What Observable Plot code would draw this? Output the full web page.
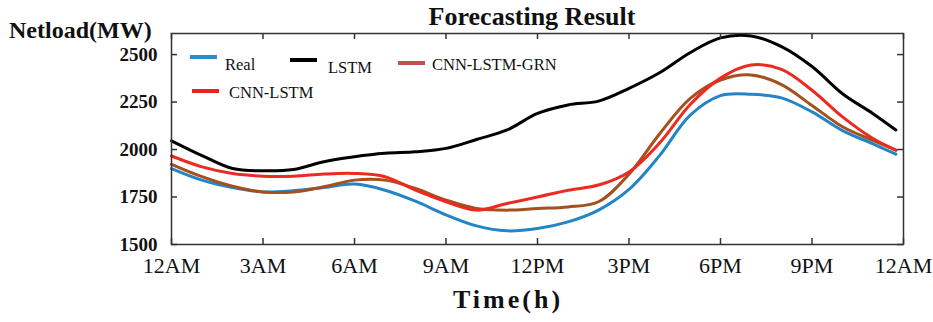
<!DOCTYPE html>
<html><head><meta charset="utf-8">
<script src="https://cdn.jsdelivr.net/npm/d3@7"></script>
<script src="https://cdn.jsdelivr.net/npm/@observablehq/plot@0.6"></script>
<style>
body{margin:0;background:#fff;}
#wrap{position:relative;width:933px;height:322px;font-family:"Liberation Serif","Times New Roman",serif;}
#wrap svg.overlay{position:absolute;left:0;top:0;pointer-events:none;font-family:"Liberation Serif","Times New Roman",serif;}
#chart{position:absolute;left:0;top:0;}
</style></head><body>
<div id="wrap"><div id="chart"></div></div>
<script>
// ---- data ----
const hours = [0,1,2,3,4,5,6,7,8,9,10,11,12,13,14,15,16,17,18,19,20,21,22,23,23.75];
const realLoad   = [1900,1839,1800,1777,1783,1800,1818,1786,1728,1656,1598,1572,1584,1619,1681,1790,1968,2180,2284,2291,2272,2198,2100,2030,1976];
const lstmLoad   = [2046,1968,1900,1888,1895,1936,1962,1980,1988,2006,2053,2103,2190,2235,2255,2322,2404,2510,2588,2598,2542,2437,2294,2189,2103];
const grnLoad    = [1922,1857,1807,1777,1777,1804,1839,1839,1795,1734,1690,1681,1690,1698,1725,1870,2082,2268,2366,2393,2342,2232,2120,2048,1997];
const cnnLstmLoad= [1966,1909,1874,1860,1860,1871,1874,1857,1786,1725,1681,1716,1750,1786,1813,1882,2034,2236,2376,2445,2422,2312,2172,2058,1997];
const models = ["Real","CNN-LSTM-GRN","CNN-LSTM","LSTM"];
const modelValues = [realLoad, grnLoad, cnnLstmLoad, lstmLoad];
const lineColors = ["#2384c6","#a5501f","#ec2a22","#000000"];
const xTickValues = [0,3,6,9,12,15,18,21,24];
const xTickLabels = ["12AM","3AM","6AM","9AM","12PM","3PM","6PM","9PM","12AM"];
const yTickValues = [1500,1750,2000,2250,2500];
const legendItems = [
  {label:"Real", color:"#2a8ccc"},
  {label:"LSTM", color:"#000000"},
  {label:"CNN-LSTM-GRN", color:"#c0504d"},
  {label:"CNN-LSTM", color:"#e0261f"}
];

const data = models.flatMap((m, k) => hours.map((h, i) => ({hour: h, value: modelValues[k][i], model: m})));
const serif = '"Liberation Serif","Times New Roman",serif';

const W = 933, H = 322, mL = 171, mR = 30, mT = 33, mB = 78;
const innerW = W - mL - mR, innerH = H - mT - mB, tk = 6;
const tickStyle = {stroke: "#333", strokeWidth: 1.5};

const plot = Plot.plot({
  width: W, height: H,
  marginLeft: mL, marginRight: mR, marginTop: mT, marginBottom: mB,
  style: {fontFamily: serif, background: "transparent", color: "#111"},
  x: {domain: [0, 24]},
  y: {domain: [1500, 2611]},
  color: {domain: models, range: lineColors},
  marks: [
    Plot.line(data, {x: "hour", y: "value", z: "model", stroke: "model", strokeWidth: 3, curve: "catmull-rom"}),
    Plot.frame({stroke: "#333", strokeWidth: 1.5}),
    // inward tick marks on all four sides
    Plot.tickX(xTickValues, {x: (d) => d, insetTop: innerH - tk, ...tickStyle}),
    Plot.tickX(xTickValues, {x: (d) => d, insetBottom: innerH - tk, ...tickStyle}),
    Plot.tickY(yTickValues, {y: (d) => d, insetRight: innerW - tk, ...tickStyle}),
    Plot.tickY(yTickValues, {y: (d) => d, insetLeft: innerW - tk, ...tickStyle}),
    // tick labels
    Plot.axisX({anchor: "bottom", ticks: xTickValues, tickSize: 0, tickPadding: 13, tickFormat: (d) => xTickLabels[xTickValues.indexOf(d)], fontSize: 22, label: null}),
    Plot.axisY({anchor: "left", ticks: yTickValues, tickSize: 0, tickPadding: 14, tickFormat: (d) => String(d), fontSize: 19, fontWeight: "bold", label: null})
  ]
});
document.getElementById("chart").appendChild(plot);

// ---- titles and legend overlay ----
const ns = "http://www.w3.org/2000/svg";
const ov = document.createElementNS(ns, "svg");
ov.setAttribute("class", "overlay");
ov.setAttribute("width", W); ov.setAttribute("height", H);
function txt(s, x, y, size, weight, anchor, spacing) {
  const t = document.createElementNS(ns, "text");
  t.textContent = s;
  t.setAttribute("x", x); t.setAttribute("y", y);
  t.setAttribute("text-anchor", anchor);
  t.setAttribute("fill", "#111");
  t.style.fontFamily = serif;
  t.style.fontSize = size + "px";
  t.style.fontWeight = weight;
  if (spacing) t.style.letterSpacing = spacing + "px";
  ov.appendChild(t);
}
function sw(x1, x2, y, color) {
  const l = document.createElementNS(ns, "line");
  l.setAttribute("x1", x1); l.setAttribute("x2", x2);
  l.setAttribute("y1", y); l.setAttribute("y2", y);
  l.setAttribute("stroke", color); l.setAttribute("stroke-width", 4);
  ov.appendChild(l);
}
txt("Forecasting Result", 532, 25, 26, "bold", "middle");
txt("Netload(MW)", 9, 38, 24, "bold", "start");
txt("Time(h)", 453, 308, 26, "bold", "start", 3);
const legendPos = [
  {sx: 190, sy: 57, tx: 225, ty: 70},
  {sx: 290, sy: 60, tx: 328, ty: 73},
  {sx: 398, sy: 63, tx: 432, ty: 70},
  {sx: 192, sy: 91, tx: 229, ty: 98}
];
legendItems.forEach((it, i) => {
  const p = legendPos[i];
  sw(p.sx, p.sx + 27, p.sy, it.color);
  txt(it.label, p.tx, p.ty, 16.5, "normal", "start");
});
document.getElementById("wrap").appendChild(ov);
</script>
</body></html>
